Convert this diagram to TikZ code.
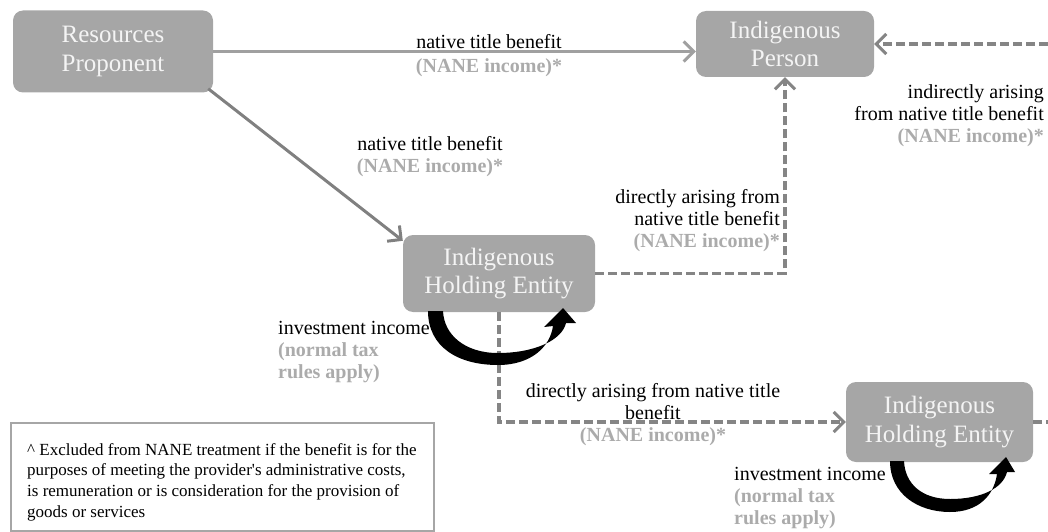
\documentclass[tikz,border=0pt]{standalone}
\usepackage{fontspec}
\setmainfont{Liberation Serif}
\usetikzlibrary{arrows.meta}
\definecolor{boxgray}{HTML}{A6A6A6}
\definecolor{nanegray}{HTML}{ABABAB}
\definecolor{lightline}{HTML}{A0A0A0}
\definecolor{darkline}{HTML}{808080}
\definecolor{dashline}{HTML}{858585}
\definecolor{boxtext}{HTML}{F4F4F4}
\begin{document}
\begin{tikzpicture}[x=1pt,y=-1pt,
  ent/.style={rectangle, rounded corners=10pt, fill=boxgray, text=boxtext,
    font=\fontsize{25}{28.5}\selectfont, align=center, inner sep=0pt},
  lbl/.style={font=\fontsize{20}{22}\selectfont, inner sep=0pt},
  arr/.style={-{Straight Barb[length=10pt,width=20pt,line width=3pt]}},
  solidc/.style={line width=3pt},
  dashc/.style={line width=3.2pt, draw=dashline, dash pattern=on 9pt off 4pt},
  fnbox/.style={draw=boxgray, line width=2.2pt, rectangle, inner sep=0pt}
]
\useasboundingbox (0,0) rectangle (1048,532);

% entities
\node[ent, minimum width=200pt, minimum height=82pt] (rp) at (113,51.5) {Resources\\Proponent};
\node[ent, minimum width=178pt, minimum height=66pt] (ip) at (785,44) {Indigenous\\Person};
\node[ent, minimum width=192pt, minimum height=77pt] (ihe1) at (499,273.5) {Indigenous\\Holding Entity};
\node[ent, minimum width=187pt, minimum height=80pt] (ihe2) at (939.5,422) {Indigenous\\Holding Entity};

% free ends
\coordinate (rin) at (1048,44);
\coordinate (rout) at (1048,422);

% connectors
\draw[solidc, draw=lightline, arr] (rp.east) -- (rp.east -| ip.west);
\draw[solidc, draw=darkline, arr] ([shift={(-5,-4)}]rp.south east) -- ([shift={(0,6)}]ihe1.north west);
\draw[dashc, arr] (ihe1.east) -| (ip.south);
\draw[dashc, arr] (rin) -- (ip.east);
\draw[dashc, arr] (ihe1.south) |- (ihe2.west);
\draw[dashc] (ihe2.east) -- (rout);

% self loops (investment income)
\fill[black] (428,311) .. controls (428,347) and (458,365) .. (498,365)
  .. controls (531,365) and (550,347) .. (553,326) -- (544,327) -- (563,308) -- (576,323) -- (566,323)
  .. controls (562,340) and (535,353) .. (498,353)
  .. controls (465,353) and (444,335) .. (443,311) -- cycle;
\fill[black] (890,461) .. controls (890,494) and (918,512) .. (950,512)
  .. controls (979,512) and (994,495) .. (997,474) -- (989,474) -- (1006,457) -- (1015,472) -- (1007,472)
  .. controls (1003,488) and (982,499) .. (950,499)
  .. controls (922,499) and (905,484) .. (904,461) -- cycle;

% labels
\node[lbl, anchor=north, align=center] (l1) at (489,34) {native title benefit\\[2pt]\textcolor{nanegray}{\bfseries (NANE income)*}};
\node[lbl, anchor=north, align=center] (l2) at (430,136) {native title benefit\\\textcolor{nanegray}{\bfseries (NANE income)*}};
\node[lbl, anchor=north east, align=right] (l3) at (780,189) {directly arising from\\native title benefit\\\textcolor{nanegray}{\bfseries (NANE income)*}};
\node[lbl, anchor=north east, align=right] (l4) at (1044,84) {indirectly arising\\from native title benefit\\\textcolor{nanegray}{\bfseries (NANE income)*}};
\node[lbl, anchor=north, align=center] (l5) at (653,383) {directly arising from native title\\benefit\\\textcolor{nanegray}{\bfseries (NANE income)*}};
\node[lbl, anchor=north west, align=left] (l6) at (278,321) {investment income\\\textcolor{nanegray}{\bfseries (normal tax}\\\textcolor{nanegray}{\bfseries rules apply)}};
\node[lbl, anchor=north west, align=left] (l7) at (734,467) {investment income\\\textcolor{nanegray}{\bfseries (normal tax}\\\textcolor{nanegray}{\bfseries rules apply)}};

% footnote
\node[fnbox, anchor=north west, minimum width=423pt, minimum height=108pt] (fn) at (10,422) {};
\node[anchor=north west, align=left, inner sep=0pt, font=\fontsize{17}{20.7}\selectfont] (fntext) at (27,443)
  {\textasciicircum{} Excluded from NANE treatment if the benefit is for the\\
   purposes of meeting the provider\textquotesingle s administrative costs,\\
   is remuneration or is consideration for the provision of\\
   goods or services};
\end{tikzpicture}
\end{document}
